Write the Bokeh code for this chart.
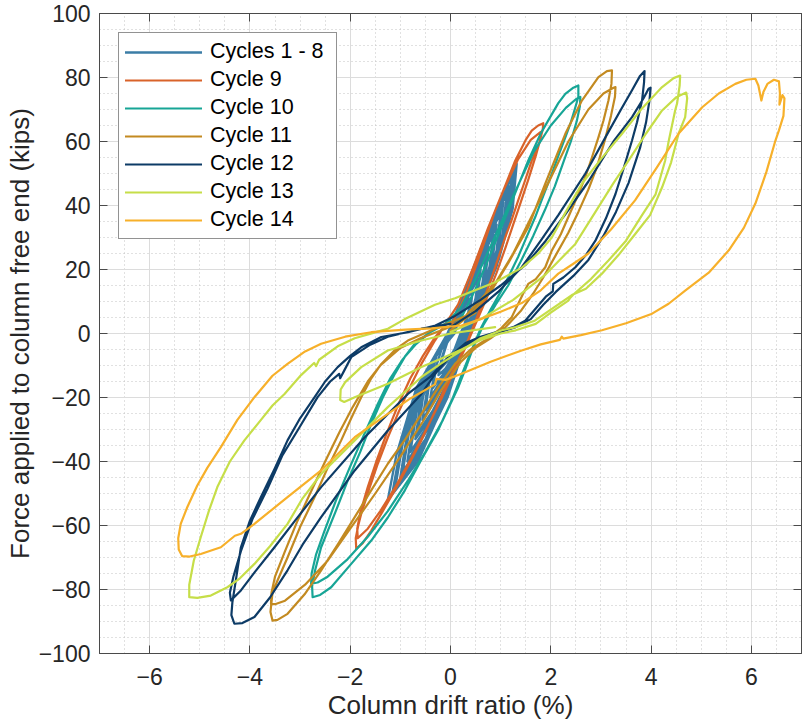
from bokeh.plotting import figure
from bokeh.models import Range1d, LinearAxis, SingleIntervalTicker, CustomJSTickFormatter
from bokeh.embed import file_html
from bokeh.resources import INLINE

# Column drift ratio (%) vs. force at the column free end (kips), one path per cycle group.
cycles_1_8 = [
    (0.05, 0), (0.18, 5), (0.30, 9), (0.40, 11), (0.36, 7), (0.28, 3), (0.20, 0), (0.08, -5), (-0.08, -9),
    (-0.20, -11), (-0.15, -7), (-0.07, -3), (0.05, 0),
    (0.15, 6), (0.32, 11), (0.44, 13), (0.40, 8), (0.30, 3), (0.22, 0), (0.10, -6), (-0.10, -11),
    (-0.24, -13), (-0.18, -8), (-0.08, -3), (0.08, 0),
    (0.22, 7), (0.40, 13), (0.55, 17), (0.50, 11), (0.40, 5), (0.24, 0), (0.08, -7), (-0.16, -13),
    (-0.35, -17), (-0.28, -10), (-0.16, -4), (0.02, 0),
    (0.28, 9), (0.46, 15), (0.60, 20), (0.55, 13), (0.44, 6), (0.26, 0), (0.08, -8), (-0.20, -15),
    (-0.40, -20), (-0.32, -12), (-0.18, -5), (0.05, 0),
    (0.25, 9), (0.48, 17), (0.70, 24), (0.64, 16), (0.52, 8), (0.26, 0), (0.05, -10), (-0.25, -18),
    (-0.50, -24), (-0.42, -15), (-0.26, -6), (0.00, 0),
    (0.32, 12), (0.55, 20), (0.76, 27), (0.70, 18), (0.56, 9), (0.28, 0), (0.05, -11), (-0.28, -20),
    (-0.56, -27), (-0.46, -17), (-0.28, -7), (0.03, 0),
    (0.28, 11), (0.58, 22), (0.85, 31), (0.78, 21), (0.62, 11), (0.28, 0), (0.02, -13), (-0.35, -24),
    (-0.65, -31), (-0.55, -20), (-0.35, -8), (-0.02, 0),
    (0.36, 14), (0.66, 25), (0.92, 34), (0.84, 23), (0.66, 12), (0.30, 0), (0.03, -14), (-0.38, -26),
    (-0.70, -33), (-0.60, -22), (-0.38, -9), (0.00, 0),
    (0.32, 14), (0.68, 27), (1.00, 38), (0.92, 26), (0.72, 14), (0.30, 0), (0.00, -15), (-0.42, -28),
    (-0.80, -37), (-0.68, -25), (-0.44, -11), (-0.04, 0),
    (0.40, 16), (0.75, 29), (1.05, 41), (0.97, 28), (0.76, 15), (0.32, 0), (0.00, -16), (-0.46, -30),
    (-0.86, -40), (-0.73, -27), (-0.47, -12), (-0.02, 0),
    (0.36, 16), (0.78, 32), (1.12, 44), (1.04, 31), (0.80, 17), (0.32, 0), (-0.02, -17), (-0.50, -33),
    (-0.95, -43), (-0.82, -30), (-0.52, -13), (-0.05, 0),
    (0.44, 18), (0.84, 34), (1.17, 46), (1.09, 33), (0.84, 18), (0.34, 0), (-0.03, -18), (-0.54, -35),
    (-1.00, -45), (-0.87, -32), (-0.55, -14), (-0.04, 0),
    (0.40, 18), (0.85, 36), (1.22, 49), (1.14, 35), (0.88, 20), (0.34, 0), (-0.05, -19), (-0.58, -37),
    (-1.10, -48), (-0.95, -34), (-0.60, -15), (-0.06, 0),
    (0.47, 20), (0.90, 37), (1.27, 51), (1.18, 37), (0.92, 21), (0.36, 0), (-0.06, -20), (-0.62, -38),
    (-1.16, -50), (-1.00, -36), (-0.64, -16), (-0.05, 0),
    (0.42, 19), (0.92, 39), (1.32, 53), (1.24, 39), (0.96, 23), (0.36, 0), (-0.08, -20), (-0.65, -40),
    (-1.25, -52), (-1.08, -38), (-0.68, -17), (-0.06, 0),
]

cycle_9 = [
    (0.00, 2.0), (0.30, 12.0), (0.62, 26.0), (0.89, 38.4), (1.10, 46.5), (1.29, 54.0), (1.50, 60.5),
    (1.62, 63.4), (1.75, 65.0), (1.85, 65.7), (1.84, 63.8), (1.78, 60.0), (1.62, 54.0), (1.48, 47.5),
    (1.35, 41.6), (1.22, 35.5), (1.09, 30.0), (0.95, 23.5), (0.80, 16.5), (0.60, 8.0), (0.35, -2.0),
    (0.15, -8.5), (-0.05, -14.7), (-0.30, -24.0), (-0.58, -33.4), (-0.85, -41.5), (-1.11, -49.0),
    (-1.35, -55.5), (-1.58, -61.6), (-1.75, -65.5), (-1.88, -67.3), (-1.89, -64.0), (-1.84, -60.0),
    (-1.78, -56.3), (-1.62, -48.5), (-1.45, -40.7), (-1.25, -32.5), (-1.05, -25.1), (-0.80, -16.5),
    (-0.58, -9.5), (-0.31, -2.2), (-0.10, 3.0),
    (0.15, 9.0), (0.45, 20.5), (0.75, 33.0), (1.05, 44.5), (1.35, 54.5), (1.60, 60.5), (1.80, 63.0),
    (1.78, 60.0), (1.70, 55.5), (1.55, 48.0), (1.40, 41.0), (1.25, 34.0), (1.10, 27.0), (0.92, 19.0),
    (0.72, 11.0), (0.50, 3.0), (0.28, -5.0), (0.05, -12.5), (-0.20, -21.0), (-0.50, -30.5),
    (-0.80, -39.5), (-1.10, -48.0), (-1.40, -55.5), (-1.65, -61.0), (-1.85, -64.0), (-1.86, -61.0),
    (-1.80, -56.0), (-1.65, -48.0), (-1.48, -40.0), (-1.28, -31.5), (-1.05, -22.5), (-0.80, -14.0),
    (-0.55, -7.0), (-0.30, -1.0), (0.00, 4.5),
]

cycle_10 = [
    (0.00, 0.0), (0.25, 6.0), (0.50, 14.0), (0.75, 23.0), (1.15, 38.4), (1.55, 54.0), (1.80, 62.5),
    (1.95, 66.6), (2.15, 72.0), (2.29, 74.9), (2.45, 76.8), (2.55, 77.5), (2.55, 74.0), (2.49, 70.7),
    (2.40, 66.0), (2.29, 61.3), (2.15, 55.5), (2.02, 49.9), (1.85, 43.0), (1.69, 36.4), (1.50, 29.5),
    (1.35, 24.0), (1.15, 17.5), (1.00, 13.0), (0.80, 7.5), (0.60, 1.5), (0.40, -6.0), (0.22, -13.0),
    (0.05, -20.0), (-0.25, -30.3), (-0.60, -40.0), (-0.91, -49.0), (-1.25, -57.5), (-1.58, -64.7),
    (-1.98, -72.0), (-2.38, -79.3), (-2.60, -81.7), (-2.75, -82.4), (-2.76, -79.0), (-2.70, -74.0),
    (-2.58, -66.8), (-2.30, -56.0), (-2.05, -46.0), (-1.80, -37.0), (-1.58, -28.2), (-1.35, -20.0),
    (-1.11, -12.6), (-0.90, -7.0), (-0.71, -3.2), (-0.45, 0.0), (-0.10, 3.0),
    (0.20, 8.0), (0.50, 17.0), (0.85, 29.0), (1.25, 43.0), (1.65, 56.5), (2.00, 65.0), (2.30, 70.5),
    (2.50, 73.2), (2.59, 73.9), (2.58, 71.0), (2.52, 66.5), (2.40, 60.0), (2.25, 53.5), (2.08, 46.0),
    (1.88, 38.5), (1.65, 30.5), (1.40, 22.5), (1.15, 15.0), (0.90, 9.0), (0.65, 2.5), (0.45, -4.5),
    (0.30, -11.0), (0.15, -17.0), (-0.15, -27.0), (-0.50, -37.0), (-0.85, -46.0), (-1.25, -55.5),
    (-1.65, -63.5), (-2.05, -70.5), (-2.45, -76.0), (-2.65, -77.8), (-2.78, -78.2), (-2.77, -75.0),
    (-2.68, -69.0), (-2.52, -62.0), (-2.28, -52.0), (-2.00, -41.5), (-1.72, -31.5), (-1.45, -22.0),
    (-1.20, -14.0), (-0.95, -8.0), (-0.70, -3.5), (-0.40, 0.5), (0.00, 4.0),
]

cycle_11 = [
    (0.00, 1.0), (0.40, 6.0), (0.80, 13.0), (1.15, 22.0), (1.55, 33.2), (1.89, 46.8), (2.29, 62.4),
    (2.62, 72.8), (2.95, 80.1), (3.12, 82.0), (3.22, 82.2), (3.21, 78.0), (3.15, 72.8), (3.05, 66.5),
    (2.95, 61.3), (2.82, 55.0), (2.69, 48.9), (2.52, 42.5), (2.35, 36.4), (2.20, 31.0), (2.02, 25.9),
    (1.89, 20.7), (1.70, 17.0), (1.55, 15.5), (1.45, 12.5), (1.22, 5.1), (1.00, 1.5), (0.70, -2.0),
    (0.40, -5.0), (0.09, -9.5), (-0.25, -17.0), (-0.58, -25.1), (-0.90, -33.0), (-1.25, -40.7),
    (-1.60, -49.5), (-1.91, -57.4), (-2.25, -66.0), (-2.58, -74.0), (-2.91, -81.5), (-3.25, -87.6),
    (-3.45, -89.5), (-3.55, -89.7), (-3.59, -87.0), (-3.55, -81.0), (-3.45, -77.2), (-3.25, -70.0),
    (-3.00, -60.5), (-2.71, -51.1), (-2.45, -42.0), (-2.18, -33.4), (-1.98, -26.5), (-1.78, -19.9),
    (-1.58, -14.0), (-1.38, -9.5), (-1.10, -5.0), (-0.85, -2.2), (-0.31, 1.5), (0.30, 5.5),
    (0.89, 15.6), (1.25, 25.0), (1.60, 36.0), (1.95, 47.0), (2.35, 60.0), (2.75, 70.0), (3.05, 75.0),
    (3.25, 76.8), (3.29, 77.0), (3.28, 74.0), (3.20, 68.0), (3.08, 60.5), (2.92, 52.0), (2.75, 45.0),
    (2.55, 38.0), (2.35, 31.5), (2.10, 24.5), (1.85, 17.5), (1.65, 12.5), (1.40, 7.0), (1.10, 2.0),
    (0.80, -1.5), (0.50, -4.5), (0.20, -9.0), (-0.20, -18.0), (-0.55, -27.5), (-1.00, -38.5),
    (-1.50, -50.0), (-2.00, -61.0), (-2.45, -71.0), (-2.90, -78.5), (-3.30, -83.5), (-3.50, -84.6),
    (-3.58, -84.5), (-3.57, -81.0), (-3.50, -76.0), (-3.30, -68.0), (-3.05, -58.5), (-2.80, -50.0),
    (-2.50, -40.0), (-2.22, -31.0), (-1.95, -23.0), (-1.65, -15.0), (-1.40, -10.0), (-1.00, -4.5),
    (-0.60, -1.5), (-0.10, 1.5), (0.50, 6.5),
]

cycle_12 = [
    (0.00, 2.0), (0.50, 7.0), (0.95, 13.0), (1.42, 20.7), (1.80, 29.0), (2.15, 37.0), (2.69, 50.0),
    (3.15, 63.0), (3.40, 70.0), (3.62, 76.0), (3.78, 80.5), (3.87, 82.0), (3.86, 78.5), (3.82, 72.8),
    (3.72, 66.0), (3.62, 60.3), (3.45, 51.5), (3.29, 43.6), (3.10, 36.0), (2.89, 29.0), (2.70, 24.5),
    (2.49, 20.7), (2.25, 17.5), (2.05, 15.5), (2.04, 13.2), (1.90, 11.5), (1.49, 4.0), (1.25, 2.0),
    (1.02, 0.9), (0.60, -1.0), (0.30, -3.0), (0.00, -7.0), (-0.30, -12.5), (-0.58, -18.9),
    (-1.25, -30.3), (-1.91, -42.8), (-2.58, -57.4), (-2.95, -66.0), (-3.25, -74.0), (-3.60, -82.5),
    (-3.91, -88.6), (-4.15, -90.5), (-4.31, -90.7), (-4.37, -88.0), (-4.35, -84.0), (-4.28, -77.0),
    (-4.18, -66.8), (-4.00, -58.5), (-3.78, -51.1), (-3.50, -42.0), (-3.25, -33.4), (-3.00, -26.5),
    (-2.71, -19.9), (-2.50, -15.0), (-2.25, -10.5), (-2.00, -7.0), (-1.78, -4.3), (-1.38, -1.1),
    (-0.85, 0.4), (-0.30, 2.5), (0.09, 5.5), (0.60, 10.5), (1.00, 15.0), (1.50, 21.5), (1.90, 29.0),
    (2.30, 37.5), (2.75, 47.5), (3.25, 60.0), (3.62, 67.6), (3.85, 73.5), (3.95, 76.5), (3.99, 76.8),
    (3.97, 73.0), (3.90, 66.0), (3.78, 58.0), (3.55, 47.0), (3.30, 38.0), (3.05, 30.5), (2.75, 23.0),
    (2.45, 18.0), (2.10, 13.0), (1.85, 9.0), (1.60, 4.5), (1.30, 2.0), (1.00, 0.5), (0.60, -1.5),
    (0.25, -4.0), (-0.05, -7.4), (-0.40, -13.5), (-0.85, -18.9), (-1.71, -32.4), (-2.58, -48.0),
    (-3.10, -58.5), (-3.51, -66.8), (-3.90, -74.5), (-4.18, -80.3), (-4.38, -83.4), (-4.40, -81.0),
    (-4.33, -76.0), (-4.18, -68.0), (-3.95, -58.0), (-3.65, -48.5), (-3.35, -38.0), (-3.05, -30.3),
    (-2.65, -19.9), (-2.40, -15.0), (-2.22, -12.6), (-2.20, -14.0), (-2.12, -11.6), (-1.98, -7.4),
    (-1.60, -3.5), (-1.25, -1.0), (-0.58, 1.5), (0.00, 3.0),
]

cycle_13 = [
    (0.00, 0.5), (0.60, 4.5), (1.25, 10.5), (1.90, 18.5), (2.49, 28.0), (2.95, 39.5), (3.25, 47.0),
    (3.55, 54.0), (3.90, 62.5), (4.22, 69.7), (4.50, 73.8), (4.70, 75.3), (4.72, 73.5), (4.68, 67.6),
    (4.55, 62.5), (4.40, 53.5), (4.22, 45.7), (3.98, 37.0), (3.68, 31.0), (3.35, 24.5), (3.02, 18.7),
    (2.70, 14.0), (2.42, 12.0), (2.05, 8.0), (1.68, 4.0), (1.30, 2.0), (1.02, 1.0), (0.60, -1.5),
    (0.22, -5.3), (-0.20, -9.5), (-0.58, -13.6), (-1.25, -23.0), (-1.91, -33.4), (-2.58, -43.9),
    (-2.95, -51.5), (-3.25, -59.5), (-3.60, -66.5), (-3.91, -72.0), (-4.20, -76.5), (-4.45, -79.3),
    (-4.78, -81.9), (-5.05, -82.6), (-5.21, -82.4), (-5.21, -78.5), (-5.12, -71.0), (-4.98, -63.6),
    (-4.82, -55.5), (-4.65, -48.0), (-4.40, -40.0), (-4.11, -33.4), (-3.78, -27.0), (-3.55, -22.5),
    (-3.31, -18.9), (-2.98, -13.0), (-2.72, -9.2), (-2.68, -10.2), (-2.62, -8.2), (-2.25, -4.0),
    (-1.91, -1.5), (-1.45, 0.6), (-1.25, 1.5), (-0.91, 4.5), (-0.31, 9.0), (0.09, 11.0), (0.89, 16.0),
    (1.42, 20.5), (1.75, 25.0), (2.02, 30.0), (2.30, 38.0), (2.62, 46.8), (3.00, 54.5), (3.42, 62.4),
    (3.80, 70.0), (4.22, 77.0), (4.45, 79.8), (4.58, 80.6), (4.57, 77.5), (4.52, 72.0), (4.48, 69.7),
    (4.35, 60.0), (4.28, 54.0), (4.09, 43.5), (3.82, 37.0), (3.50, 29.0), (3.15, 22.8), (2.80, 17.0),
    (2.45, 12.2), (2.38, 11.0), (2.35, 10.3), (2.00, 6.5), (1.70, 3.0), (1.30, 1.0), (1.00, 0.0),
    (0.60, -2.0), (0.22, -5.0), (-0.20, -8.0), (-0.58, -10.5), (-1.25, -15.7), (-1.91, -19.9),
    (-2.12, -21.4), (-2.20, -20.8), (-2.19, -17.5), (-2.10, -15.2), (-1.78, -10.5), (-1.25, -5.3),
    (-0.58, -2.2), (0.00, 0.0), (0.89, 2.0),
]

cycle_14 = [
    (0.22, 2.5), (0.60, 4.5), (1.00, 6.8), (1.42, 9.5), (1.80, 13.5), (2.15, 18.7), (2.45, 21.8),
    (2.75, 25.0), (3.20, 32.5), (3.68, 41.6), (4.10, 51.5), (4.55, 62.5), (5.02, 70.7), (5.35, 75.0),
    (5.68, 78.0), (5.90, 79.3), (6.08, 79.6), (6.14, 77.5), (6.20, 72.8), (6.24, 75.5), (6.32, 78.0),
    (6.45, 79.3), (6.55, 78.8), (6.57, 75.0), (6.56, 71.5), (6.62, 74.5), (6.66, 73.5), (6.64, 68.0),
    (6.55, 63.5), (6.48, 60.3), (6.30, 50.5), (6.08, 40.6), (5.85, 33.0), (5.55, 26.0), (5.15, 19.0),
    (4.68, 13.4), (4.35, 9.3), (4.02, 6.2), (3.50, 3.2), (3.02, 1.0), (2.60, -0.5), (2.25, -1.6),
    (2.22, -1.0), (2.18, -2.0), (1.80, -3.4), (1.42, -5.3), (0.80, -8.8), (0.22, -12.6),
    (-0.10, -14.5), (-0.28, -14.2), (-0.31, -15.9), (-0.80, -20.3), (-1.25, -25.1), (-1.91, -32.4),
    (-2.58, -42.8), (-3.25, -51.1), (-3.91, -59.5), (-4.18, -62.6), (-4.30, -63.2), (-4.58, -66.8),
    (-4.98, -68.9), (-5.20, -69.7), (-5.35, -69.6), (-5.42, -67.5), (-5.43, -64.0), (-5.38, -59.5),
    (-5.25, -54.3), (-5.05, -47.5), (-4.85, -42.0), (-4.58, -35.5), (-4.25, -27.0), (-3.91, -19.9),
    (-3.55, -13.2), (-3.25, -9.5), (-2.90, -5.6), (-2.58, -3.2), (-2.10, -1.0), (-1.58, 0.4),
    (-0.90, 1.2), (-0.38, 1.6), (0.22, 2.5),
]

series = [
    ("Cycles 1 - 8", cycles_1_8, "#3B7DA6", 2.4),
    ("Cycle 9", cycle_9, "#D9632A", 2.2),
    ("Cycle 10", cycle_10, "#17A596", 2.2),
    ("Cycle 11", cycle_11, "#C38A21", 2.2),
    ("Cycle 12", cycle_12, "#0D3B66", 2.2),
    ("Cycle 13", cycle_13, "#C6DE48", 2.2),
    ("Cycle 14", cycle_14, "#F7B02A", 2.2),
]

x_ticks_interval = 2
y_ticks_interval = 20

FONT = "Liberation Sans"
TEXT = "#262626"
AXIS = "#4a4a4a"

p = figure(width=803, height=725, x_range=Range1d(-7, 7), y_range=Range1d(-100, 100),
           output_backend="svg", toolbar_location=None,
           min_border_left=99, min_border_right=2, min_border_top=13, min_border_bottom=72,
           background_fill_color="white", border_fill_color="white")
p.outline_line_color = AXIS
p.outline_line_width = 1

xt = SingleIntervalTicker(interval=x_ticks_interval, num_minor_ticks=4)
yt = SingleIntervalTicker(interval=y_ticks_interval, num_minor_ticks=4)
minus_fmt = CustomJSTickFormatter(code="return tick < 0 ? '\\u2212' + Math.abs(tick) : String(tick);")
blank_fmt = CustomJSTickFormatter(code="return '';")


def style_axis(ax):
    ax.major_tick_in = 8
    ax.major_tick_out = 0
    ax.minor_tick_in = 0
    ax.minor_tick_out = 0
    ax.axis_line_color = AXIS
    ax.major_tick_line_color = AXIS
    ax.major_label_text_font = FONT
    ax.major_label_text_font_size = "23px"
    ax.major_label_text_color = TEXT
    ax.axis_label_text_font = FONT
    ax.axis_label_text_font_size = "26px"
    ax.axis_label_text_font_style = "normal"
    ax.axis_label_text_color = TEXT


xa = p.xaxis[0]
ya = p.yaxis[0]
xa.ticker = xt
ya.ticker = yt
xa.formatter = minus_fmt
ya.formatter = minus_fmt
style_axis(xa)
style_axis(ya)
xa.axis_label = "Column drift ratio (%)"
ya.axis_label = "Force applied to column free end (kips)"
xa.major_label_standoff = 14
ya.major_label_standoff = 9
xa.axis_label_standoff = 2
ya.axis_label_standoff = 1

# tick marks on the top and right edges of the box, without labels
for loc, tk in (("above", xt), ("right", yt)):
    ax = LinearAxis(ticker=tk, formatter=blank_fmt)
    style_axis(ax)
    ax.major_label_text_font_size = "1px"
    ax.major_label_standoff = 0
    ax.axis_label_standoff = 0
    p.add_layout(ax, loc)

for g in (p.xgrid[0], p.ygrid[0]):
    g.grid_line_color = "#dcdcdc"
    g.grid_line_width = 1
    g.minor_grid_line_color = "#c2c2c2"
    g.minor_grid_line_dash = "1 3"
    g.minor_grid_line_width = 1

for name, pts, color, lw in series:
    xs = [pt[0] for pt in pts]
    ys = [pt[1] for pt in pts]
    p.line(xs, ys, line_color=color, line_width=lw, line_join="round", line_cap="round",
           legend_label=name)

lg = p.legend[0]
lg.location = "top_left"
lg.margin = 19
lg.padding = 6
lg.spacing = 3
lg.glyph_width = 77
lg.glyph_height = 24
lg.label_height = 24
lg.label_width = 120
lg.label_standoff = 8
lg.label_text_font = FONT
lg.label_text_font_size = "21.5px"
lg.label_text_color = "black"
lg.border_line_color = "#262626"
lg.border_line_width = 1
lg.background_fill_color = "white"
lg.background_fill_alpha = 1

open("out.html", "w").write(file_html(p, INLINE))
